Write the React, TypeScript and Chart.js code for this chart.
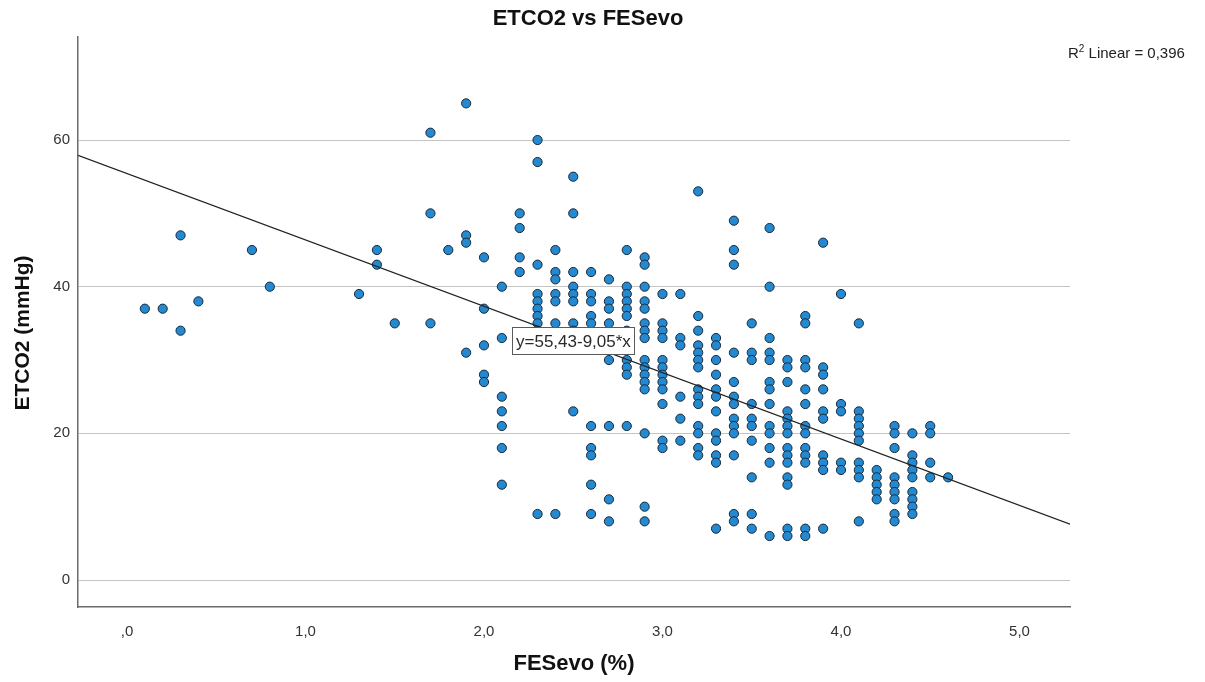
import React, { useEffect, useRef } from "react";
import { Chart, registerables } from "chart.js";

Chart.register(...registerables);

// ---------- Data ----------
const chartTitle = "ETCO2 vs FESevo";
const xAxisTitle = "FESevo (%)";
const yAxisTitle = "ETCO2 (mmHg)";

// FESevo levels (x) and the ETCO2 values observed at each level (y)
const fesevoLevels = [
  0.1, 0.2, 0.3, 0.4, 0.7, 0.8, 1.3, 1.4, 1.5, 1.7, 1.8, 1.9, 2.0, 2.1, 2.2, 2.3, 2.4, 2.5, 2.6, 2.7,
  2.8, 2.9, 3.0, 3.1, 3.2, 3.3, 3.4, 3.5, 3.6, 3.7, 3.8, 3.9, 4.0, 4.1, 4.2, 4.3, 4.4, 4.5, 4.6,
];
const etco2AtLevel: number[][] = [
  [37],
  [37],
  [47, 34],
  [38],
  [45],
  [40],
  [39],
  [45, 43],
  [35],
  [61, 50, 35],
  [45],
  [65, 47, 46, 31],
  [44, 37, 32, 28, 27],
  [40, 33, 25, 23, 21, 18, 13],
  [50, 48, 44, 42],
  [60, 57, 43, 39, 38, 37, 36, 35, 34, 33, 9],
  [45, 42, 41, 39, 38, 35, 33, 9],
  [55, 50, 42, 40, 39, 38, 35, 34, 23],
  [42, 39, 38, 36, 35, 21, 18, 17, 13, 9],
  [41, 38, 37, 35, 33, 30, 21, 11, 8],
  [45, 40, 39, 38, 37, 36, 34, 32, 30, 29, 28, 21],
  [44, 43, 40, 38, 37, 35, 34, 33, 30, 29, 28, 27, 26, 20, 10, 8],
  [39, 35, 34, 33, 30, 29, 28, 27, 26, 24, 19, 18],
  [39, 33, 32, 25, 22, 19],
  [53, 36, 34, 32, 31, 30, 29, 26, 25, 24, 21, 20, 18, 17],
  [33, 32, 30, 28, 26, 25, 23, 20, 19, 17, 16, 7],
  [49, 45, 43, 31, 27, 25, 24, 22, 21, 20, 17, 9, 8],
  [35, 31, 30, 24, 22, 21, 19, 14, 9, 7],
  [48, 40, 33, 31, 30, 27, 26, 24, 21, 20, 18, 16, 6],
  [30, 29, 27, 23, 22, 21, 20, 18, 17, 16, 14, 13, 7, 6],
  [36, 35, 30, 29, 26, 24, 21, 20, 18, 17, 16, 7, 6],
  [46, 29, 28, 26, 23, 22, 17, 16, 15, 7],
  [39, 24, 23, 16, 15],
  [35, 23, 22, 21, 20, 19, 16, 15, 14, 8],
  [15, 14, 13, 12, 11],
  [21, 20, 18, 14, 13, 12, 11, 9, 8],
  [20, 17, 16, 15, 14, 12, 11, 10, 9],
  [21, 20, 16, 14],
  [14],
];

// Linear fit
const fitIntercept = 55.43;
const fitSlope = -9.05;
const fitLabel = "y=55,43-9,05*x";
const fitLabelAt = [2.157, 32.7];
const r2Value = "0,396";

// Axes
const xMin = -0.2745;
const xMax = 5.283;
const yMin = -3.68;
const yMax = 74.05;
const xTickValues = [0, 1, 2, 3, 4, 5];
const xTickLabels = [",0", "1,0", "2,0", "3,0", "4,0", "5,0"];
const yTickValues = [0, 20, 40, 60];
const yTickLabels = ["0", "20", "40", "60"];

const FONT = '"Liberation Sans", Arial, Helvetica, sans-serif';

const overlayPlugin = {
  id: "overlay",
  afterDatasetsDraw(chart: any) {
    const { ctx, scales } = chart;
    const px = scales.x.getPixelForValue(fitLabelAt[0]);
    const py = scales.y.getPixelForValue(fitLabelAt[1]);
    ctx.save();
    ctx.font = `17px ${FONT}`;
    const w = Math.round(ctx.measureText(fitLabel).width + 7);
    const h = 27;
    const left = Math.round(px) + 0.5;
    const top = Math.round(py - h / 2) + 0.5;
    ctx.fillStyle = "#ffffff";
    ctx.fillRect(left, top, w, h);
    ctx.strokeStyle = "#5a5a5a";
    ctx.lineWidth = 1;
    ctx.strokeRect(left, top, w, h);
    ctx.fillStyle = "#2a2a2a";
    ctx.textBaseline = "middle";
    ctx.textAlign = "left";
    ctx.fillText(fitLabel, left + 3.5, top + h / 2 + 1);
    ctx.restore();
  },
  afterDraw(chart: any) {
    const { ctx } = chart;
    ctx.save();
    // Title
    ctx.font = `bold 22px ${FONT}`;
    ctx.fillStyle = "#111111";
    ctx.textAlign = "center";
    ctx.textBaseline = "middle";
    ctx.fillText(chartTitle, 588, 19);
    // Y axis title
    ctx.save();
    ctx.translate(23, 333);
    ctx.rotate(-Math.PI / 2);
    ctx.font = `bold 21px ${FONT}`;
    ctx.fillText(yAxisTitle, 0, 0);
    ctx.restore();
    // R² label
    ctx.textAlign = "left";
    ctx.textBaseline = "alphabetic";
    ctx.fillStyle = "#222222";
    let x = 1068;
    const base = 58;
    ctx.font = `15px ${FONT}`;
    ctx.fillText("R", x, base);
    x += ctx.measureText("R").width;
    ctx.font = `10px ${FONT}`;
    ctx.fillText("2", x, base - 6);
    x += ctx.measureText("2").width;
    ctx.font = `15px ${FONT}`;
    ctx.fillText(` Linear = ${r2Value}`, x, base);
    ctx.restore();
  },
};

export default function App() {
  const canvasRef = useRef<HTMLCanvasElement | null>(null);

  useEffect(() => {
    if (!canvasRef.current) return;
    const points = fesevoLevels.flatMap((xv, i) => etco2AtLevel[i].map((yv) => ({ x: xv, y: yv })));
    const fitLine = [
      { x: xMin, y: fitIntercept + fitSlope * xMin },
      { x: xMax, y: fitIntercept + fitSlope * xMax },
    ];

    const chart = new Chart(canvasRef.current, {
      type: "scatter",
      data: {
        datasets: [
          {
            type: "line",
            label: "Linear fit",
            data: fitLine,
            borderColor: "#222222",
            borderWidth: 1.2,
            pointRadius: 0,
            fill: false,
          } as any,
          {
            label: "ETCO2",
            data: points,
            backgroundColor: "#2389d1",
            borderColor: "#1a2838",
            borderWidth: 1,
            pointRadius: 4.6,
          },
        ],
      },
      options: {
        responsive: false,
        animation: false,
        layout: { padding: { left: 0, top: 37, right: 135, bottom: 0 } },
        plugins: {
          legend: { display: false },
          tooltip: { enabled: false },
          title: { display: false },
        },
        scales: {
          x: {
            type: "linear",
            min: xMin,
            max: xMax,
            afterBuildTicks: (s: any) => {
              s.ticks = xTickValues.map((v) => ({ value: v }));
            },
            afterFit: (s: any) => {
              s.height = 75;
            },
            grid: { display: false, drawTicks: false },
            border: { display: true, color: "#6b6b6b", width: 1.5 },
            ticks: {
              autoSkip: false,
              maxRotation: 0,
              padding: 16,
              color: "#333333",
              font: { family: FONT, size: 15 },
              callback: (_v: any, i: number) => xTickLabels[i],
            },
            title: {
              display: true,
              text: xAxisTitle,
              color: "#111111",
              font: { family: FONT, size: 22, weight: "bold" },
              padding: { top: 0, bottom: 5 },
            },
          },
          y: {
            type: "linear",
            min: yMin,
            max: yMax,
            afterBuildTicks: (s: any) => {
              s.ticks = yTickValues.map((v) => ({ value: v }));
            },
            afterFit: (s: any) => {
              s.width = 78;
            },
            grid: { display: true, drawTicks: false, color: "#c4c4c4", lineWidth: 1 },
            border: { display: true, color: "#6b6b6b", width: 1.5 },
            ticks: {
              autoSkip: false,
              padding: 8,
              color: "#333333",
              font: { family: FONT, size: 15 },
              callback: (_v: any, i: number) => yTickLabels[i],
            },
            title: { display: false },
          },
        },
      },
      plugins: [overlayPlugin],
    });
    return () => chart.destroy();
  }, []);

  return (
    <div style={{ position: "absolute", left: 0, top: 0, width: 1205, height: 682, background: "#ffffff" }}>
      <canvas ref={canvasRef} width={1205} height={682} style={{ display: "block" }} />
    </div>
  );
}
